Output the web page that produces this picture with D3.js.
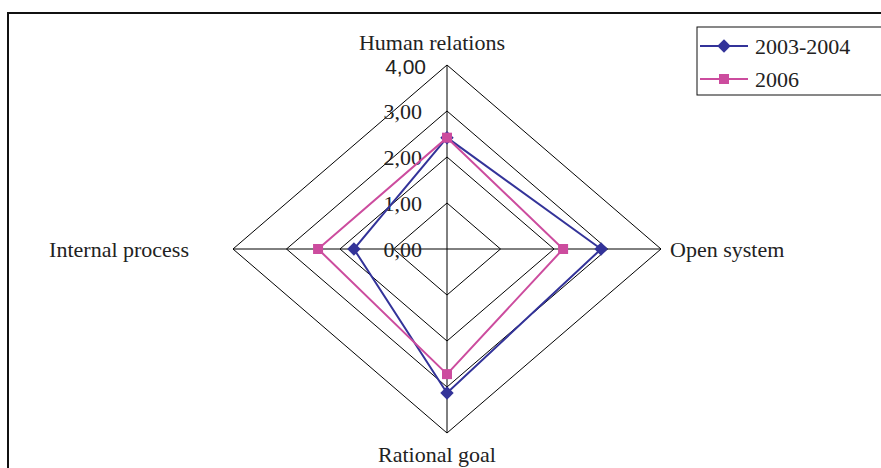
<!DOCTYPE html>
<html>
<head>
<meta charset="utf-8">
<script src="https://cdn.jsdelivr.net/npm/d3@7"></script>
<style>
  body { margin: 0; background: #fff; }
  svg { display: block; }
</style>
</head>
<body>
<svg width="881" height="468"></svg>
<script>
// data
const axes = ["Human relations", "Open system", "Rational goal", "Internal process"];
const seriesNames = ["2003-2004", "2006"];
const values2003 = [2.42, 2.88, 3.13, 1.74];
const values2006 = [2.42, 2.17, 2.72, 2.41];
const ticks = [0, 1, 2, 3, 4];
const tickLabels = ["0,00", "1,00", "2,00", "3,00", "4,00"];

const colors = ["#333399", "#CC4C9E"];
const serif = "Liberation Serif, Times New Roman, serif";
const svg = d3.select("svg");

// khung ngoài
svg.append("rect")
    .attr("x", 8).attr("y", 13)
    .attr("width", 900).attr("height", 500)
    .attr("fill", "none")
    .attr("stroke", "#111")
    .attr("stroke-width", 2);

const cx = 447, cy = 249;
// radar bị kéo giãn: bán kính ngang và dọc khác nhau
const rx = d3.scaleLinear().domain([0, 4]).range([0, 214]);
const ry = d3.scaleLinear().domain([0, 4]).range([0, 184]);

// hướng mỗi trục: trên, phải, dưới, trái
const dirs = [[0, -1], [1, 0], [0, 1], [-1, 0]];
const pt = (i, v) => [cx + dirs[i][0] * rx(v), cy + dirs[i][1] * ry(v)];

const g = svg.append("g");

// lưới
ticks.slice(1).forEach(t => {
    g.append("path")
        .attr("d", d3.line()(axes.map((a, i) => pt(i, t))) + "Z")
        .attr("fill", "none")
        .attr("stroke", "#000")
        .attr("stroke-width", 1);
});
axes.forEach((a, i) => {
    const [x, y] = pt(i, 4);
    g.append("line")
        .attr("x1", cx).attr("y1", cy)
        .attr("x2", x).attr("y2", y)
        .attr("stroke", "#000")
        .attr("stroke-width", 1);
});

// nhãn trục giá trị
ticks.forEach((t, k) => {
    g.append("text")
        .attr("x", k === 4 ? cx - 21 : cx - 25)
        .attr("y", cy - ry(t) + (k === 4 ? 2 : 0))
        .attr("dy", "0.35em")
        .attr("text-anchor", "end")
        .style("font-family", k === 4 ? "Liberation Sans, Arial, sans-serif" : serif)
        .style("font-size", k === 4 ? "21px" : "22px")
        .style("fill", "#222")
        .text(tickLabels[k]);
});

// nhãn các trục
const labelPos = [
    { x: cx - 15, y: 50, anchor: "middle" },
    { x: 670, y: cy + 8, anchor: "start" },
    { x: cx - 10, y: 462, anchor: "middle" },
    { x: 189, y: cy + 8, anchor: "end" }
];
axes.forEach((a, i) => {
    g.append("text")
        .attr("x", labelPos[i].x)
        .attr("y", labelPos[i].y)
        .attr("text-anchor", labelPos[i].anchor)
        .style("font-family", serif)
        .style("font-size", "22px")
        .style("fill", "#222")
        .text(a);
});

// series
const allSeries = [values2003, values2006];
const markerRot = [45, 0];
const markerSize = [90, 100];
const marker = (sel, s, x, y) => sel.append("path")
    .attr("d", d3.symbol().type(d3.symbolSquare).size(markerSize[s])())
    .attr("transform", `translate(${x},${y}) rotate(${markerRot[s]})`)
    .attr("fill", colors[s]);

allSeries.forEach((vals, s) => {
    const pts = vals.map((v, i) => pt(i, v));
    g.append("path")
        .attr("d", d3.line()(pts) + "Z")
        .attr("fill", "none")
        .attr("stroke", colors[s])
        .attr("stroke-width", 2);
});
allSeries.forEach((vals, s) => {
    vals.forEach((v, i) => {
        const [x, y] = pt(i, v);
        marker(g, s, x, y);
    });
});

// chú thích
const legend = svg.append("g");
legend.append("rect")
    .attr("x", 697).attr("y", 27)
    .attr("width", 200).attr("height", 68)
    .attr("fill", "#fff")
    .attr("stroke", "#111")
    .attr("stroke-width", 1);
seriesNames.forEach((name, s) => {
    const y = 46 + s * 33;
    legend.append("line")
        .attr("x1", 700).attr("x2", 748)
        .attr("y1", y).attr("y2", y)
        .attr("stroke", colors[s])
        .attr("stroke-width", 2);
    marker(legend, s, 724, y);
    legend.append("text")
        .attr("x", 755)
        .attr("y", y)
        .attr("dy", "0.35em")
        .style("font-family", serif)
        .style("font-size", "22px")
        .style("fill", "#222")
        .text(name);
});
</script>
</body>
</html>
